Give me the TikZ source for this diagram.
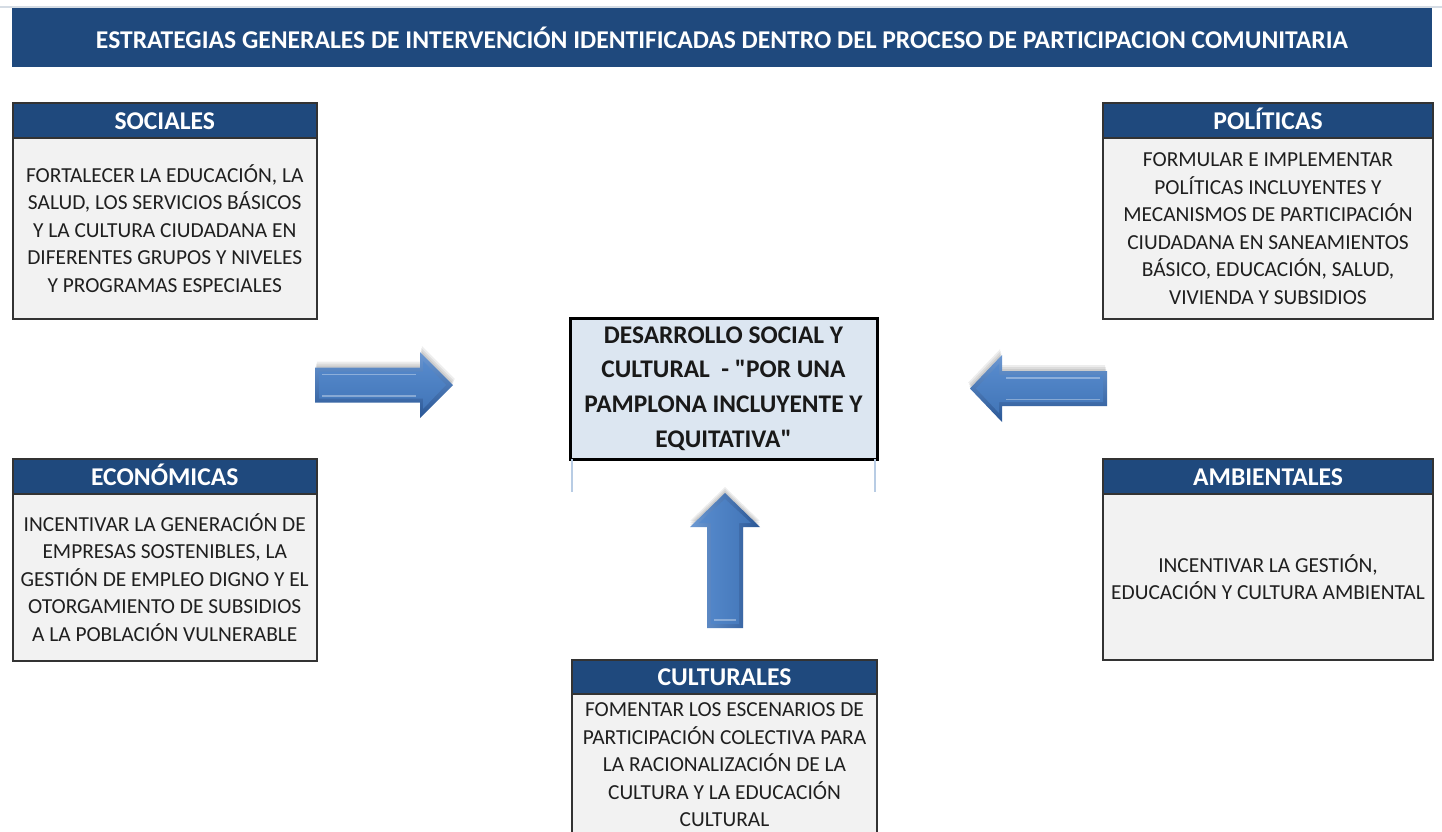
\documentclass[tikz,border=0pt]{standalone}
\usepackage{fontspec}
\setmainfont{Carlito}
\newfontfamily\ctrfont{Carlito}[Ligatures=TeXOff]
\definecolor{hdrblue}{HTML}{1F497D}
\definecolor{bodygray}{HTML}{F2F2F2}
\definecolor{ctrfill}{HTML}{DCE6F1}
\definecolor{edge}{HTML}{333333}
\definecolor{arrmid}{HTML}{4880C8}
\definecolor{arrlight}{HTML}{6E9FDD}
\definecolor{arrdark}{HTML}{2A5796}
\definecolor{thinline}{HTML}{B8CCE4}
\definecolor{topline}{HTML}{D5DCE4}
\begin{document}
\begin{tikzpicture}[x=0.5pt,y=-0.5pt,
  hdr/.style={draw=edge, line width=1pt, fill=hdrblue, text=white,
    font=\bfseries\fontsize{12.8}{14}\selectfont, text height=8.6pt, text depth=0pt,
    outer sep=0pt, inner sep=0pt, anchor=north west},
  bodybox/.style={draw=edge, line width=1pt, fill=bodygray, text=black!88,
    font=\fontsize{10.7}{13.75}\selectfont, align=center, outer sep=0pt, inner sep=0pt, anchor=north},
  arrshadow/.style={fill=black, opacity=0.07},
  arrouter/.style={top color=arrmid!80!white, bottom color=arrdark},
  arrinner/.style={top color=arrmid!92!white, bottom color=arrmid!92!black},
  arrhigh/.style={draw=white, opacity=0.35, line width=0.8pt}
]
\useasboundingbox (0,0) rectangle (1442,831);
\clip (0,0) rectangle (1442,831);
\fill[white] (0,0) rectangle (1442,831);

% top line and title bar
\draw[topline, line width=0.75pt] (0,7) -- (1442,7);
\node[fill=hdrblue, text=white, font=\bfseries\fontsize{12.8}{14}\selectfont,
  minimum width=710pt, minimum height=29.5pt, inner sep=0pt, outer sep=0pt, anchor=north west]
  (title) at (12,8) {ESTRATEGIAS GENERALES DE INTERVENCIÓN IDENTIFICADAS DENTRO DEL PROCESO DE PARTICIPACION COMUNITARIA};

% SOCIALES
\node[hdr, minimum width=152.25pt, minimum height=17.5pt] (socH) at (12.5,103) {SOCIALES};
\node[bodybox, minimum width=152.25pt, minimum height=90.5pt] (socB) at (socH.south)
  {FORTALECER LA EDUCACIÓN, LA\\SALUD, LOS SERVICIOS BÁSICOS\\Y LA CULTURA CIUDADANA EN\\DIFERENTES GRUPOS Y NIVELES\\Y PROGRAMAS ESPECIALES};

% POLITICAS
\node[hdr, minimum width=165pt, minimum height=17.5pt] (polH) at (1103,103) {POLÍTICAS};
\node[bodybox, minimum width=165pt, minimum height=90.5pt] (polB) at (polH.south)
  {FORMULAR E IMPLEMENTAR\\POLÍTICAS INCLUYENTES Y\\MECANISMOS DE PARTICIPACIÓN\\CIUDADANA EN SANEAMIENTOS\\BÁSICO, EDUCACIÓN, SALUD,\\VIVIENDA Y SUBSIDIOS};

% ECONOMICAS
\node[hdr, minimum width=152.25pt, minimum height=17.5pt] (ecoH) at (12.5,459) {ECONÓMICAS};
\node[bodybox, minimum width=152.25pt, minimum height=83.5pt] (ecoB) at (ecoH.south)
  {INCENTIVAR LA GENERACIÓN DE\\EMPRESAS SOSTENIBLES, LA\\GESTIÓN DE EMPLEO DIGNO Y EL\\OTORGAMIENTO DE SUBSIDIOS\\A LA POBLACIÓN VULNERABLE};

% AMBIENTALES
\node[hdr, minimum width=165pt, minimum height=17.5pt] (ambH) at (1103,459) {AMBIENTALES};
\node[bodybox, minimum width=165pt, minimum height=83pt] (ambB) at (ambH.south)
  {INCENTIVAR LA GESTIÓN,\\EDUCACIÓN Y CULTURA AMBIENTAL};

% CULTURALES
\node[hdr, minimum width=152.5pt, minimum height=17pt] (culH) at (572,660) {CULTURALES};
\node[bodybox, minimum width=152.5pt, minimum height=71pt] (culB) at (culH.south)
  {FOMENTAR LOS ESCENARIOS DE\\PARTICIPACIÓN COLECTIVA PARA\\LA RACIONALIZACIÓN DE LA\\CULTURA Y LA EDUCACIÓN\\CULTURAL};

% CENTER
\node[draw=black, line width=1.5pt, fill=ctrfill, minimum width=153.5pt, minimum height=70.5pt,
  inner sep=0pt, outer sep=0pt, anchor=north west, align=center, text=black!90,
  font=\ctrfont\bfseries\fontsize{12.7}{17.4}\selectfont] (ctr) at (570,318)
  {DESARROLLO SOCIAL Y\\CULTURAL\ \ - "POR UNA\\PAMPLONA INCLUYENTE Y\\EQUITATIVA"};
\draw[thinline, line width=0.6pt] ([xshift=1pt]ctr.south west) -- ++(0,33);
\draw[thinline, line width=0.6pt] ([xshift=-1pt]ctr.south east) -- ++(0,33);

% left arrow (pointing right)
\foreach \s in {2,4,6}{
  \fill[arrshadow] ([shift={(\s*0.3,-\s)}]315,367.5) -- ([shift={(\s*0.3,-\s)}]420,367.5) -- ([shift={(\s*0.3,-\s)}]420,352) -- ([shift={(\s*0.3,-\s)}]453,385) -- ([shift={(\s*0.3,-\s)}]420,418) -- ([shift={(\s*0.3,-\s)}]420,402.5) -- ([shift={(\s*0.3,-\s)}]315,402.5) -- cycle;}
\path[arrouter] (315,367.5) -- (420,367.5) -- (420,352) -- (453,385) -- (420,418) -- (420,402.5) -- (315,402.5) -- cycle;
\path[arrinner] (319,371.5) -- (423,371.5) -- (423,361) -- (446,385) -- (423,409) -- (423,398.5) -- (319,398.5) -- cycle;
\draw[arrhigh] (322,374.5) -- (416,374.5);
\draw[arrhigh] (322,396) -- (416,396);

% right arrow (pointing left)
\foreach \s in {2,4,6}{
  \fill[arrshadow] ([shift={(-\s*0.3,-\s)}]1107,371) -- ([shift={(-\s*0.3,-\s)}]1002,371) -- ([shift={(-\s*0.3,-\s)}]1002,355) -- ([shift={(-\s*0.3,-\s)}]970,388.5) -- ([shift={(-\s*0.3,-\s)}]1002,422) -- ([shift={(-\s*0.3,-\s)}]1002,406) -- ([shift={(-\s*0.3,-\s)}]1107,406) -- cycle;}
\path[arrouter] (1107,371) -- (1002,371) -- (1002,355) -- (970,388.5) -- (1002,422) -- (1002,406) -- (1107,406) -- cycle;
\path[arrinner] (1103,375) -- (999,375) -- (999,364) -- (976,388.5) -- (999,413) -- (999,402) -- (1103,402) -- cycle;
\draw[arrhigh] (1100,378) -- (1006,378);
\draw[arrhigh] (1100,399.5) -- (1006,399.5);

% up arrow
\foreach \s in {2,4,6}{
  \fill[arrshadow] ([shift={(0,-\s)}]707,628) -- ([shift={(0,-\s)}]707,527) -- ([shift={(0,-\s)}]690,527) -- ([shift={(0,-\s)}]725,493) -- ([shift={(0,-\s)}]760,527) -- ([shift={(0,-\s)}]743,527) -- ([shift={(0,-\s)}]743,628) -- cycle;}
\path[left color=arrmid!80!white, right color=arrdark]
  (707,628) -- (707,527) -- (690,527) -- (725,493) -- (760,527) -- (743,527) -- (743,628) -- cycle;
\path[left color=arrmid!92!white, right color=arrmid!92!black]
  (711,624) -- (711,523) -- (699,523) -- (725,499) -- (751,523) -- (739,523) -- (739,624) -- cycle;
\draw[arrhigh] (714,620) -- (736,620);
\end{tikzpicture}
\end{document}
